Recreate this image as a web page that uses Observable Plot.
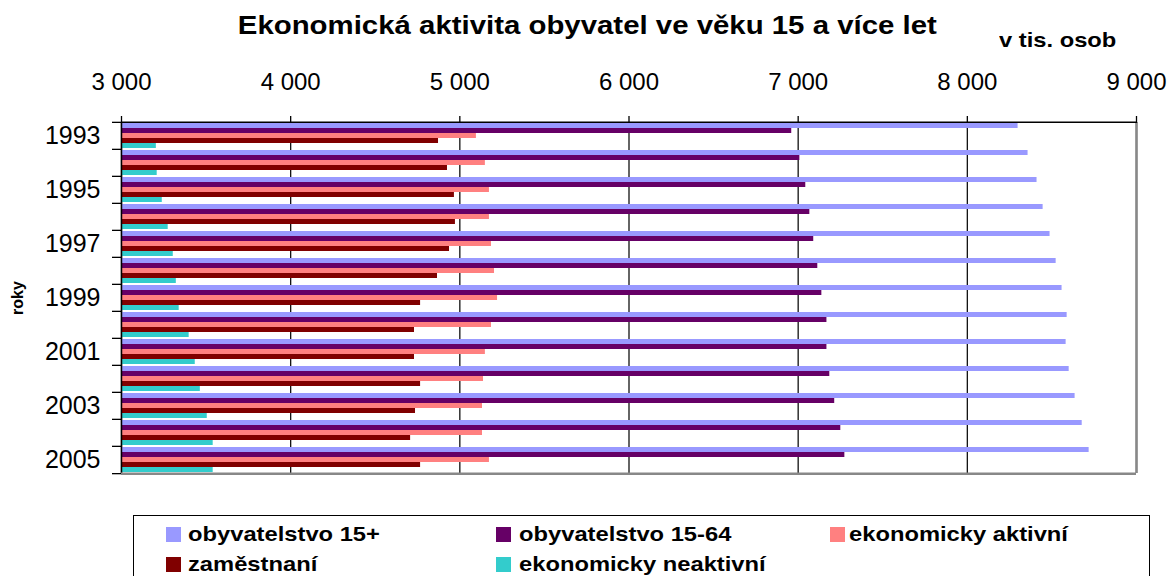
<!DOCTYPE html>
<html>
<head>
<meta charset="utf-8">
<script src="https://cdn.jsdelivr.net/npm/d3@7"></script>
<script src="https://cdn.jsdelivr.net/npm/@observablehq/plot@0.6"></script>
<style>
  body { margin: 0; background: #fff; }
  #wrap { position: relative; width: 1169px; height: 576px; overflow: hidden; background: #fff;
          font-family: "Liberation Sans", Arial, sans-serif; color: #000; }
  .bold { font-weight: bold; white-space: nowrap; }
  #title { position: absolute; left: 3px; top: 10px; width: 1169px; text-align: center; font-size: 26px; line-height: 30px; }
  #title span { display: inline-block; transform: scaleX(1.13); transform-origin: center; }
  #unit { position: absolute; left: 999px; top: 28px; font-size: 21px; line-height: 24px; transform: scaleX(1.13); transform-origin: left; }
  #ylab { position: absolute; left: 18px; top: 298px; font-size: 16px; line-height: 18px; transform: translate(-50%, -50%) rotate(-90deg); }
  #chart { position: absolute; left: 0; top: 0; }
  #legend { position: absolute; left: 133px; top: 515px; width: 1017px; height: 90px; border: 1px solid #000; box-sizing: border-box; }
  .sw { position: absolute; width: 15px; height: 15px; }
  .lt { position: absolute; font-size: 21px; line-height: 21px; font-weight: bold; white-space: nowrap; transform: scaleX(1.13); transform-origin: left; }
</style>
</head>
<body>
<div id="wrap">
  <div id="title" class="bold"><span>Ekonomická aktivita obyvatel ve věku 15 a více let</span></div>
  <div id="unit" class="bold">v tis. osob</div>
  <div id="ylab" class="bold">roky</div>
  <div id="chart"></div>
</div>
<script>
// ---- data (thousands of persons) ----
const years = [1993, 1994, 1995, 1996, 1997, 1998, 1999, 2000, 2001, 2002, 2003, 2004, 2005];
const seriesNames = ["obyvatelstvo 15+", "obyvatelstvo 15-64", "ekonomicky aktivní", "zaměstnaní", "ekonomicky neaktivní"];
const seriesColors = ["#9999FF", "#660066", "#FF8080", "#800000", "#33CCCC"];
const pop15plus   = [8300, 8359, 8412, 8448, 8489, 8525, 8560, 8590, 8584, 8602, 8637, 8679, 8720];
const pop15to64   = [6962, 7010, 7045, 7069, 7092, 7116, 7140, 7170, 7170, 7187, 7216, 7252, 7276];
const active      = [5098, 5151, 5175, 5175, 5187, 5205, 5223, 5187, 5151, 5140, 5134, 5134, 5175];
const employed    = [4874, 4927, 4968, 4974, 4939, 4868, 4768, 4732, 4732, 4768, 4738, 4709, 4768];
const inactive    = [3206, 3211, 3241, 3276, 3306, 3324, 3341, 3400, 3436, 3466, 3507, 3542, 3542];
const xTicks = [3000, 4000, 5000, 6000, 7000, 8000, 9000];
const labeledYears = [1993, 1995, 1997, 1999, 2001, 2003, 2005];
const legendRows = [["obyvatelstvo 15+", "obyvatelstvo 15-64", "ekonomicky aktivní"], ["zaměstnaní", "ekonomicky neaktivní"]];

const seriesValues = [pop15plus, pop15to64, active, employed, inactive];
const data = years.flatMap((year, i) => seriesNames.map((s, j) => ({year, series: s, value: seriesValues[j][i]})));

const W = 1169, H = 500, mT = 120, mB = 25, mL = 121, mR = 33;
const step = (H - mT - mB) / years.length;
const fmt = d => d3.format(",")(d).replace(/,/g, " ");
const xMin = xTicks[0], xMax = xTicks[xTicks.length - 1];
const firstYear = years[0], lastYear = years[years.length - 1];

const marks = [
  Plot.gridX(xTicks, {stroke: "#111", strokeOpacity: 1, strokeWidth: 1.3}),
  Plot.barX(data, {fy: "year", y: "series", x1: xMin, x2: "value", fill: "series"}),
  Plot.ruleX([xMin], {stroke: "#000", strokeWidth: 1.5}),
  Plot.ruleX([xMax], {stroke: "#888", strokeWidth: 2.5}),
  Plot.axisX(xTicks, {anchor: "top", tickSize: 7, tickPadding: 26, fontSize: 24, tickFormat: fmt, stroke: "#000", strokeWidth: 1.3, label: null}),
  // year labels (every other year)
  Plot.text(labeledYears, {fy: d => d, text: d => String(d), frameAnchor: "left", textAnchor: "end", dx: -21, fontSize: 25, fill: "#000"}),
  // category boundary tick marks on the left axis
  Plot.ruleY(years, {fy: d => d, y: null, x1: xMin, x2: xMin, insetLeft: -9, dy: -step / 2, stroke: "#000", strokeWidth: 1.3}),
  Plot.ruleY([lastYear], {fy: d => d, y: null, x1: xMin, x2: xMin, insetLeft: -9, dy: step / 2, stroke: "#000", strokeWidth: 1.3}),
  // plot-area top and bottom border
  Plot.ruleY([firstYear], {fy: d => d, y: null, dy: -step / 2, stroke: "#000", strokeWidth: 1.5}),
  Plot.ruleY([lastYear], {fy: d => d, y: null, dy: step / 2, stroke: "#888", strokeWidth: 2.5})
];

const chart = Plot.plot({
  width: W, height: H,
  marginTop: mT, marginBottom: mB, marginLeft: mL, marginRight: mR,
  style: {fontFamily: "'Liberation Sans', Arial, sans-serif", background: "transparent", color: "#000", overflow: "visible"},
  x: {domain: [xMin, xMax], axis: null},
  y: {domain: seriesNames, paddingInner: 0, paddingOuter: 0.12, axis: null},
  fy: {domain: years, padding: 0, axis: null},
  color: {domain: seriesNames, range: seriesColors},
  marks
});
document.getElementById("chart").appendChild(chart);

// ---- legend ----
const legend = document.createElement("div");
legend.id = "legend";
document.getElementById("wrap").appendChild(legend);
const colX = [[32, 54], [362, 385], [696, 715]];
const rowY = [11, 41];
legendRows.forEach((row, r) => row.forEach((name, c) => {
  const sw = document.createElement("div");
  sw.className = "sw";
  sw.style.left = colX[c][0] + "px";
  sw.style.top = rowY[r] + "px";
  sw.style.background = seriesColors[seriesNames.indexOf(name)];
  legend.appendChild(sw);
  const t = document.createElement("div");
  t.className = "lt";
  t.style.left = colX[c][1] + "px";
  t.style.top = (rowY[r] - 4) + "px";
  t.textContent = name;
  legend.appendChild(t);
}));
</script>
</body>
</html>
